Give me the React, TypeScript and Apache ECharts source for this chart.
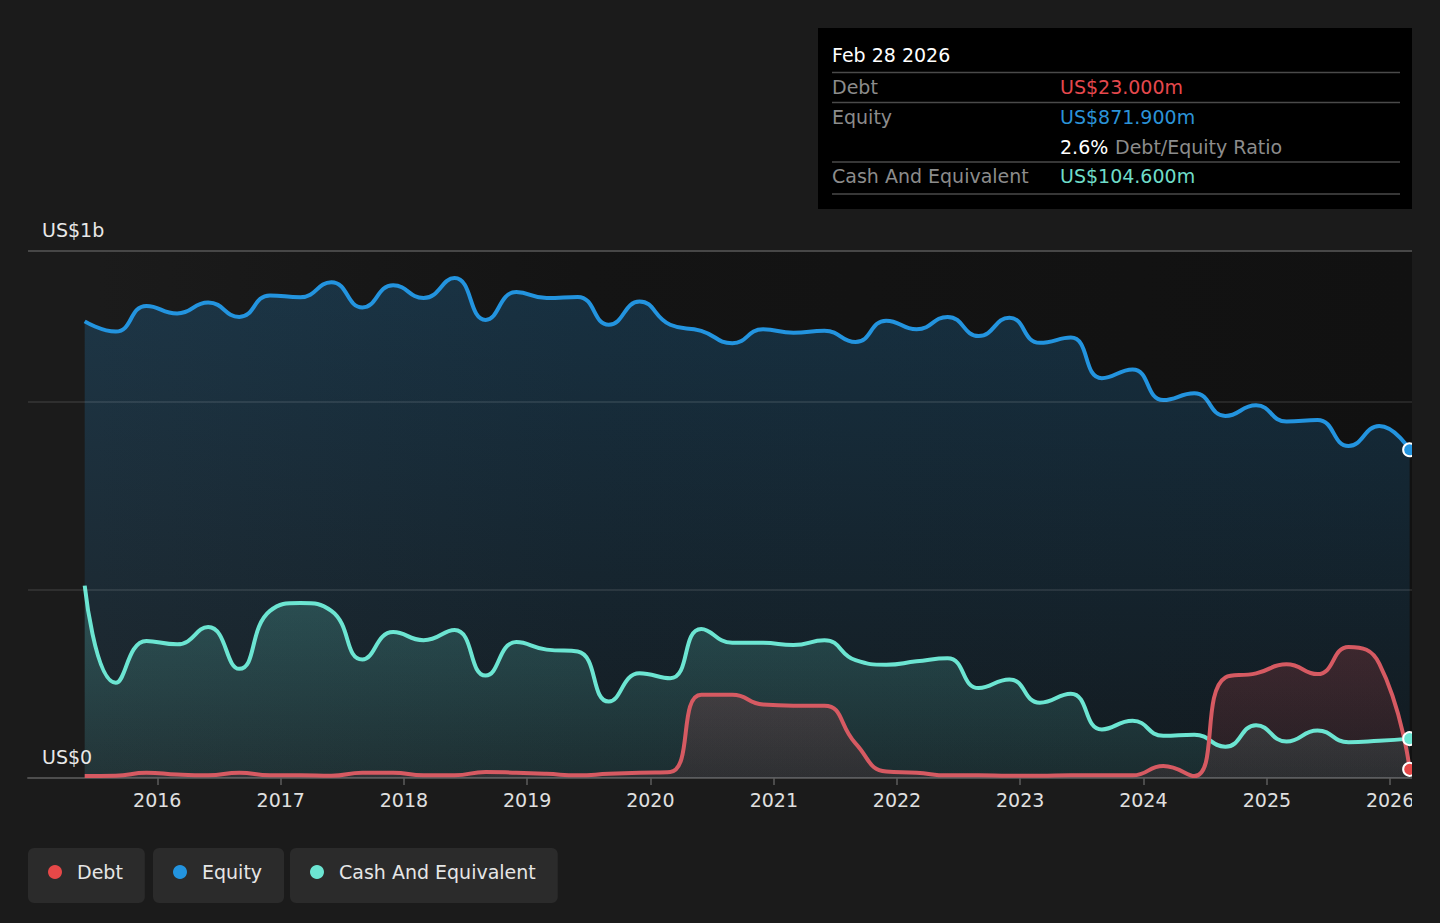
import React, { useEffect, useRef } from "react";
import * as echarts from "echarts";

// ---- data (US$ millions), quarterly ----
const dates = [
  "2015-05-31", "2015-08-31", "2015-11-30", "2016-02-29",
  "2016-05-31", "2016-08-31", "2016-11-30", "2017-02-28",
  "2017-05-31", "2017-08-31", "2017-11-30", "2018-02-28",
  "2018-05-31", "2018-08-31", "2018-11-30", "2019-02-28",
  "2019-05-31", "2019-08-31", "2019-11-30", "2020-02-29",
  "2020-05-31", "2020-08-31", "2020-11-30", "2021-02-28",
  "2021-05-31", "2021-08-31", "2021-11-30", "2022-02-28",
  "2022-05-31", "2022-08-31", "2022-11-30", "2023-02-28",
  "2023-05-31", "2023-08-31", "2023-11-30", "2024-02-29",
  "2024-05-31", "2024-08-31", "2024-11-30", "2025-02-28",
  "2025-05-31", "2025-08-31", "2025-11-30", "2026-02-28",
];

const debt = [
  5, 6, 14, 9, 7, 14, 7, 7, 6, 14, 14, 7, 7, 16, 14, 11, 7, 11, 14, 16,
  221, 221, 195, 192, 192, 92, 17, 14, 7, 7, 6, 6, 7, 7, 7, 32, 5,
  267, 278, 302, 276, 348, 304, 23,
];

const equity = [
  1213, 1186, 1254, 1234, 1263, 1225, 1282, 1277, 1317, 1250, 1309, 1275,
  1328, 1217, 1291, 1275, 1278, 1204, 1266, 1204, 1188, 1155, 1192, 1183,
  1188, 1158, 1215, 1192, 1225, 1174, 1223, 1156, 1170, 1062, 1085, 1004,
  1022, 962, 990, 947, 951, 882, 935, 871.9,
];

const cash = [
  511, 253, 364, 355, 401, 290, 444, 465, 444, 315, 388, 366, 393, 272,
  361, 341, 336, 203, 278, 265, 396, 359, 359, 353, 366, 313, 301, 310,
  318, 239, 262, 200, 224, 129, 152, 112, 115, 83, 140, 97, 126, 95, 99,
  104.6,
];

const yearTicks = [
  "2016-01-01", "2017-01-01", "2018-01-01", "2019-01-01", "2020-01-01",
  "2021-01-01", "2022-01-01", "2023-01-01", "2024-01-01", "2025-01-01",
  "2026-01-01",
];

const yAxisLabels: Record<number, string> = { 0: "US$0", 1400: "US$1b" };
const tooltipDate = "Feb 28 2026";
const seriesNames = ["Debt", "Equity", "Cash And Equivalent"];

const FONT = "DejaVu Sans";
const C_DEBT = "#e64848";
const C_DEBT_LINE = "#d65a62";
const C_EQUITY = "#2394df";
const C_CASH = "#6ce5d2";

const ts = dates.map((d) => Date.parse(d));
const yearTs = yearTicks.map((d) => Date.parse(d));

function grad(top: string, bottom: string) {
  return {
    type: "linear",
    x: 0,
    y: 0,
    x2: 0,
    y2: 1,
    colorStops: [
      { offset: 0, color: top },
      { offset: 1, color: bottom },
    ],
  };
}

function makeSeries(
  name: string,
  values: number[],
  color: string,
  lineColor: string,
  top: string,
  bottom: string
) {
  const last = values.length - 1;
  return {
    name,
    type: "line",
    smooth: 0.5,
    symbol: "circle",
    symbolSize: 0,
    showSymbol: true,
    showAllSymbol: true,
    lineStyle: { color: lineColor, width: 4 },
    itemStyle: { color },
    areaStyle: { color: grad(top, bottom) },
    emphasis: { disabled: true },
    data: values.map((v, i) =>
      i === last
        ? {
            value: [ts[i], v],
            symbolSize: 13,
            itemStyle: { color, borderColor: "#ffffff", borderWidth: 2 },
          }
        : [ts[i], v]
    ),
  };
}

function legendBox(name: string, left: number) {
  return {
    data: [name],
    left,
    top: 848,
    orient: "horizontal",
    icon: "circle",
    itemWidth: 34,
    itemHeight: 14,
    backgroundColor: "#2b2b2b",
    borderRadius: 6,
    padding: [14, 22, 21, 20],
    textStyle: {
      color: "#e6e6e6",
      fontSize: 19,
      fontFamily: FONT,
      lineHeight: 20,
    },
  };
}

function tipText(text: string, x: number, y: number, fill: string) {
  return {
    type: "text",
    x,
    y,
    silent: true,
    style: {
      text,
      fill,
      font: `19px "${FONT}"`,
      verticalAlign: "middle",
      align: "left",
    },
  };
}

function tipLine(y: number) {
  return {
    type: "line",
    silent: true,
    shape: { x1: 832, y1: y, x2: 1400, y2: y },
    style: { stroke: "#4a4a4a", lineWidth: 1.5 },
  };
}

export default function App() {
  const ref = useRef<HTMLDivElement>(null);

  useEffect(() => {
    const chart = echarts.init(ref.current!, undefined, { renderer: "svg" });
    const lastDebt = debt[debt.length - 1];
    const lastEquity = equity[equity.length - 1];
    const lastCash = cash[cash.length - 1];
    const ratio = ((lastDebt / lastEquity) * 100).toFixed(1) + "%";

    const option = {
      animation: false,
      backgroundColor: "#1b1b1b",
      textStyle: { fontFamily: FONT },
      grid: {
        left: 28,
        right: 0,
        top: 251,
        bottom: 145,
        outerBoundsMode: "none",
        containLabel: false,
        show: true,
        borderWidth: 0,
        backgroundColor: {
          type: "linear",
          x: 0,
          y: 0,
          x2: 1,
          y2: 0,
          colorStops: [
            { offset: 0, color: "#1b1b1b" },
            { offset: 0.05, color: "#1b1b1b" },
            { offset: 0.4, color: "#141414" },
            { offset: 1, color: "#111111" },
          ],
        },
      },
      xAxis: {
        type: "value",
        min: Date.UTC(2014, 11, 14),
        max: Date.UTC(2026, 2, 7),
        axisLine: { show: true, lineStyle: { color: "#4d4d4d", width: 2 } },
        axisTick: {
          show: true,
          length: 7,
          customValues: yearTs,
          lineStyle: { color: "#5c5c5c", width: 1.5 },
        },
        axisLabel: {
          color: "#e0e0e0",
          fontSize: 19,
          fontFamily: FONT,
          margin: 12,
          customValues: yearTs,
          formatter: (v: number) => String(new Date(v).getUTCFullYear()),
          hideOverlap: false,
        },
        splitLine: { show: false },
      },
      yAxis: {
        type: "value",
        min: 0,
        max: 1400,
        interval: 500,
        z: 10,
        axisLine: { show: false },
        axisTick: { show: false },
        axisLabel: {
          inside: true,
          margin: 14,
          color: "#e8e8e8",
          fontSize: 19,
          fontFamily: FONT,
          verticalAlign: "bottom",
          lineHeight: 20,
          padding: [0, 0, 11, 0],
          formatter: (v: number) => yAxisLabels[v] ?? "",
        },
        splitLine: {
          show: true,
          lineStyle: {
            color: [
              "rgba(0,0,0,0)",
              "rgba(255,255,255,0.09)",
              "rgba(255,255,255,0.09)",
              "#474747",
            ],
            width: 2,
          },
        },
      },
      legend: [
        legendBox(seriesNames[0], 28),
        legendBox(seriesNames[1], 153),
        legendBox(seriesNames[2], 290),
      ],
      series: [
        makeSeries(
          seriesNames[1],
          equity,
          C_EQUITY,
          C_EQUITY,
          "rgba(35,148,223,0.32)",
          "rgba(35,148,223,0.10)"
        ),
        makeSeries(
          seriesNames[2],
          cash,
          C_CASH,
          C_CASH,
          "rgba(108,229,210,0.30)",
          "rgba(108,229,210,0.12)"
        ),
        makeSeries(
          seriesNames[0],
          debt,
          C_DEBT,
          C_DEBT_LINE,
          "rgba(230,72,72,0.28)",
          "rgba(230,72,72,0.13)"
        ),
      ],
      graphic: [
        {
          type: "group",
          silent: true,
          children: [
            {
              type: "rect",
              shape: { x: 818, y: 28, width: 595, height: 181 },
              style: { fill: "#000000" },
            },
            tipText(tooltipDate, 832, 55, "#ffffff"),
            tipLine(72.5),
            tipText(seriesNames[0], 832, 87, "#8c8c8c"),
            tipText("US$" + lastDebt.toFixed(3) + "m", 1060, 87, "#e5484d"),
            tipLine(102.5),
            tipText(seriesNames[1], 832, 117, "#8c8c8c"),
            tipText("US$" + lastEquity.toFixed(3) + "m", 1060, 117, "#2b93d8"),
            tipText(ratio, 1060, 146.5, "#ffffff"),
            tipText("Debt/Equity Ratio", 1115, 146.5, "#8c8c8c"),
            tipLine(162),
            tipText(seriesNames[2], 832, 176, "#8c8c8c"),
            tipText("US$" + lastCash.toFixed(3) + "m", 1060, 176, "#6fdcc8"),
            tipLine(194),
          ],
        },
      ],
    };

    chart.setOption(option as any);
    return () => chart.dispose();
  }, []);

  return (
    <div
      style={{
        position: "fixed",
        left: 0,
        top: 0,
        width: 1440,
        height: 923,
        background: "#1b1b1b",
        overflow: "hidden",
      }}
    >
      <div ref={ref} style={{ width: 1412, height: 923 }} />
    </div>
  );
}
